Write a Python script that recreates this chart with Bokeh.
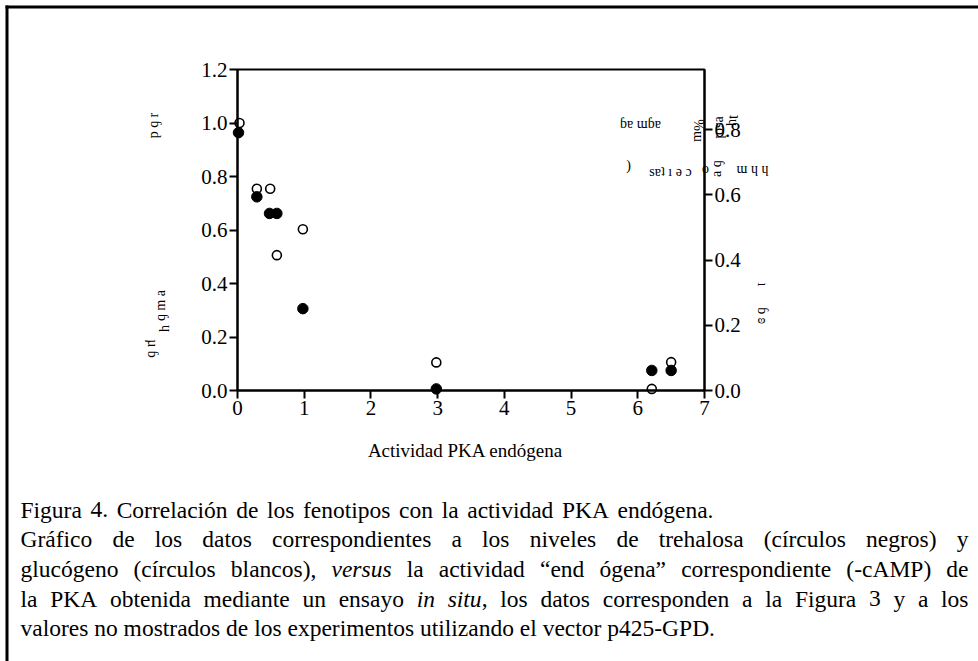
import math
import re
from bokeh.plotting import figure
from bokeh.models import LinearAxis, Range1d, Label, FixedTicker, PrintfTickFormatter, BoxAnnotation
from bokeh.embed import file_html
from bokeh.resources import INLINE

# ---- data ----
pka_trehalosa = [0.015, 0.29, 0.48, 0.59, 0.98, 2.98, 6.21, 6.5]
trehalosa = [0.964, 0.724, 0.662, 0.662, 0.306, 0.006, 0.075, 0.075]
pka_glucogeno = [0.03, 0.29, 0.49, 0.59, 0.98, 2.98, 6.21, 6.5]
glucogeno = [1.0, 0.754, 0.754, 0.506, 0.603, 0.105, 0.006, 0.106]
x_ticks = [0, 1, 2, 3, 4, 5, 6, 7]
y_ticks = [0.0, 0.2, 0.4, 0.6, 0.8, 1.0, 1.2]
right_ticks = [0.0, 0.2, 0.4, 0.6, 0.8]
x_title = "Actividad PKA endógena"
caption_lines = [
    "Figura 4. Correlación de los fenotipos con la actividad PKA endógena.",
    "Gráfico de los datos correspondientes a los niveles de trehalosa (círculos negros) y",
    "glucógeno (círculos blancos), _versus_ la actividad “end ógena” correspondiente (-cAMP) de",
    "la PKA obtenida mediante un ensayo _in_ _situ_, los datos corresponden a la Figura 3 y a los",
    "valores no mostrados de los experimentos utilizando el vector p425-GPD.",
]
line_right = [713, 968, 968, 968, None]   # right edge each line is spread to (None = natural)

FONT = "Liberation Serif"

# ---- layout (page pixels; canvas starts at page 0,0) ----
W, H = 978, 661
FL, FR, FT, FB = 237, 704, 69, 390          # plot box edges on the page
X0, X1, Y0, Y1, R1 = 0, 7, 0, 1.2, 0.985     # axis extents
sx = (FR - FL) / (X1 - X0)
sy = (FB - FT) / (Y1 - Y0)
sr = (FB - FT) / R1


def dx(px):
    return X0 + (px - FL) / sx


def dy(py):
    return Y0 + (FB - py) / sy


def dr(py):
    return (FB - py) / sr


p = figure(width=W, height=H, x_range=Range1d(dx(0), dx(W)), y_range=Range1d(dy(H), dy(0)),
           output_backend="svg", toolbar_location=None,
           min_border_left=0, min_border_right=0, min_border_top=0, min_border_bottom=0)
p.extra_y_ranges = {"right": Range1d(dr(H), dr(0))}
p.grid.visible = False
p.outline_line_color = None
p.background_fill_color = "white"
p.border_fill_color = "white"

ax_r = LinearAxis(y_range_name="right")
p.add_layout(ax_r, "right")
ax_x = p.xaxis[0]
ax_l = p.yaxis[0]
ax_x.fixed_location = Y0
ax_l.fixed_location = X0
ax_r.fixed_location = X1
ax_x.bounds = (X0, X1)
ax_l.bounds = (Y0, Y1)
ax_r.bounds = (0, R1)

for ax in [ax_x, ax_l, ax_r]:
    ax.axis_line_width = 2
    ax.axis_line_color = "black"
    ax.major_tick_line_width = 2
    ax.major_tick_line_color = "black"
    ax.major_tick_out = 8
    ax.major_tick_in = 0
    ax.minor_tick_out = 0
    ax.minor_tick_in = 0
    ax.major_label_text_font = FONT
    ax.major_label_text_font_size = "21px"
    ax.major_label_text_color = "black"
    ax.major_label_standoff = 2

ax_x.ticker = FixedTicker(ticks=x_ticks)
ax_l.ticker = FixedTicker(ticks=y_ticks)
ax_l.formatter = PrintfTickFormatter(format="%.1f")
ax_r.ticker = FixedTicker(ticks=right_ticks)
ax_r.formatter = PrintfTickFormatter(format="%.1f")

# plot box (top edge)
p.add_layout(BoxAnnotation(left=X0, right=X1, bottom=Y0, top=Y1, fill_alpha=0,
                           line_color="black", line_alpha=1, line_width=2))
# page frame lines (left and top)
p.add_layout(BoxAnnotation(left=dx(5), right=dx(8), bottom=dy(H), top=dy(5),
                           fill_color="black", fill_alpha=1, line_alpha=0))
p.add_layout(BoxAnnotation(left=dx(5), right=dx(W), bottom=dy(8), top=dy(5),
                           fill_color="black", fill_alpha=1, line_alpha=0))

p.scatter(pka_glucogeno, glucogeno, marker="circle", size=9, fill_color="white",
          line_color="black", line_width=1.6)
p.scatter(pka_trehalosa, trehalosa, marker="circle", size=10.5, fill_color="black",
          line_color="black")

p.add_layout(Label(x=dx(465), y=dy(450), text=x_title, text_font=FONT, text_font_size="19px",
                   text_align="center", text_baseline="middle", text_color="black"))

# garbled rotated axis-title fragments (as in the reference)
frags = [
    ("ɹ ɓ d", 155, 125, True), ("ɐ ɯ ɓ", 162, 305, True), ("ɥ", 166, 328, True), ("µ ɓ", 152, 348, True),
    ("ɓɐ ɯɓɐ", 640, 123, False), ("%ɯ", 698, 130, True), ("ɐsol", 720, 127, True), ("ʇɥ", 733, 120, True),
    (")", 628, 165, False), ("sɐʇ ı ǝ ɔ", 670, 171, False), ("o", 705, 168, False),
    ("ɓ ɐ", 718, 168, True), ("ɯ ɥ ɥ", 752, 168, False),
    ("ı", 762, 284, True), ("ɓ ʚ", 762, 315, True),
]
for t, x, y, rot in frags:
    p.add_layout(Label(x=dx(x), y=dy(y), text=t, text_font=FONT, text_font_size="14px",
                       angle=-math.pi / 2 if rot else 0, text_align="center",
                       text_baseline="middle", text_color="black"))

# ---- caption (Times metrics, justified like the reference) ----
TR = {' ': 250, '!': 333, '"': 408, '%': 833, '(': 333, ')': 333, ',': 250, '-': 333, '.': 250,
      '/': 278, ':': 278, '“': 444, '”': 444,
      'A': 722, 'B': 667, 'C': 667, 'D': 722, 'E': 611, 'F': 556, 'G': 722, 'H': 722, 'I': 333,
      'J': 389, 'K': 722, 'L': 611, 'M': 889, 'N': 722, 'O': 722, 'P': 556, 'Q': 722, 'R': 667,
      'S': 556, 'T': 611, 'U': 722, 'V': 722, 'W': 944, 'X': 722, 'Y': 722, 'Z': 611,
      'a': 444, 'b': 500, 'c': 444, 'd': 500, 'e': 444, 'f': 333, 'g': 500, 'h': 500, 'i': 278,
      'j': 278, 'k': 500, 'l': 278, 'm': 778, 'n': 500, 'o': 500, 'p': 500, 'q': 500, 'r': 333,
      's': 389, 't': 278, 'u': 500, 'v': 500, 'w': 722, 'x': 500, 'y': 500, 'z': 444,
      'á': 444, 'é': 444, 'í': 278, 'ó': 500, 'ú': 500}
TI = dict(TR)
TI.update({'a': 500, 'f': 278, 'r': 389, 'v': 444, 'y': 444, 'w': 667, 'k': 444})
for ch in "0123456789":
    TR[ch] = 500
    TI[ch] = 500

CAP_SIZE = 23.5
CAP_LEFT = 20
line_y = [509, 538, 568, 598, 627]


def width(text, italic):
    tab = TI if italic else TR
    return sum(tab.get(c, 500) for c in text) * CAP_SIZE / 1000.0


for line, right, yy in zip(caption_lines, line_right, line_y):
    words = []
    for w in line.split():
        segs = []
        for s in re.split(r"(_[^_]+_)", w):
            if not s:
                continue
            if s.startswith("_") and s.endswith("_"):
                segs.append((s[1:-1], True))
            else:
                segs.append((s, False))
        words.append(segs)
    widths = [sum(width(t, it) for t, it in segs) for segs in words]
    if right is not None and len(words) > 1:
        gap = (right - CAP_LEFT - sum(widths)) / (len(words) - 1)
    else:
        gap = CAP_SIZE * 0.25
    x = CAP_LEFT
    for segs, wd in zip(words, widths):
        sx_ = x
        for t, it in segs:
            p.add_layout(Label(x=dx(sx_), y=dy(yy), text=t, text_font=FONT,
                               text_font_size=f"{CAP_SIZE}px",
                               text_font_style="italic" if it else "normal",
                               text_align="left", text_baseline="middle", text_color="black"))
            sx_ += width(t, it)
        x += wd + gap

open("out.html", "w").write(file_html(p, INLINE))
